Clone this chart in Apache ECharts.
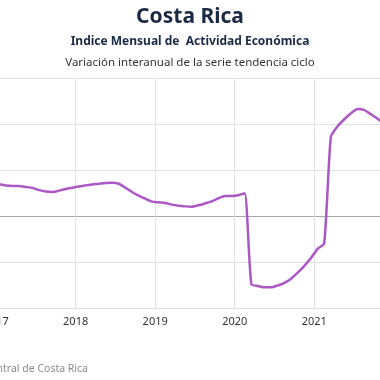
<!DOCTYPE html>
<html>
<head>
<meta charset="utf-8">
<script src="https://cdn.jsdelivr.net/npm/echarts@6/dist/echarts.min.js"></script>
<style>
html,body{margin:0;padding:0;width:380px;height:380px;overflow:hidden;background:#fff;}
#c{position:absolute;left:-150px;top:0;width:680px;height:380px;}
</style>
</head>
<body>
<div id="c"></div>
<script>
// Monthly observations (year, month) and year-on-year % change of trend-cycle IMAE
const months = [
  "2016-11","2016-12",
  "2017-01","2017-02","2017-03","2017-04","2017-05","2017-06","2017-07","2017-08","2017-09","2017-10","2017-11","2017-12",
  "2018-01","2018-02","2018-03","2018-04","2018-05","2018-06","2018-07","2018-08","2018-09","2018-10","2018-11","2018-12",
  "2019-01","2019-02","2019-03","2019-04","2019-05","2019-06","2019-07","2019-08","2019-09","2019-10","2019-11","2019-12",
  "2020-01","2020-02","2020-03","2020-04","2020-05","2020-06","2020-07","2020-08","2020-09","2020-10","2020-11","2020-12",
  "2021-01","2021-02","2021-03","2021-04","2021-05","2021-06","2021-07","2021-08","2021-09","2021-10","2021-11","2021-12"
];
const values = [
  3.75, 3.62,
  3.50, 3.35, 3.30, 3.30, 3.20, 3.10, 2.85, 2.70, 2.65, 2.80, 2.97, 3.12,
  3.25, 3.37, 3.47, 3.55, 3.63, 3.65, 3.55, 3.12, 2.65, 2.25, 1.92, 1.60,
  1.52, 1.45, 1.27, 1.15, 1.08, 1.05, 1.20, 1.40, 1.62, 1.95, 2.20, 2.22,
  2.30, 2.50, -7.40, -7.60, -7.75, -7.75, -7.55, -7.25, -6.80, -6.15, -5.40, -4.55,
  -3.55, -2.95, 8.65, 9.80, 10.55, 11.20, 11.70, 11.60, 11.15, 10.65, 10.10, 9.50
];
const yearTicks = [2016, 2017, 2018, 2019, 2020, 2021, 2022];
const yTicks = [-10, -5, 0, 5, 10, 15];

const titleMain = "Costa Rica";
const titleSub1 = "Indice Mensual de  Actividad Económica";
const titleSub2 = "Variación interanual de la serie tendencia ciclo";
const source = "Fuente: Banco Central de Costa Rica";

const points = months.map((m, i) => {
  const [y, mo] = m.split("-").map(Number);
  return [y + (mo - 0.5) / 12, values[i]];
});

const chart = echarts.init(document.getElementById('c'), null, {renderer: 'canvas'});
const font = "'Noto Sans', 'DejaVu Sans', sans-serif";
chart.setOption({
  backgroundColor: '#ffffff',
  animation: false,
  title: [
    {text: titleMain, left: 'center', top: 2,
     textStyle: {fontFamily: font, fontSize: 21, fontWeight: 'bold', color: '#1b2a47'}},
    {text: titleSub1, left: 'center', top: 31,
     textStyle: {fontFamily: font, fontSize: 12, fontWeight: 'bold', color: '#1b2a47'}},
    {text: titleSub2, left: 'center', top: 52,
     textStyle: {fontFamily: font, fontSize: 11.5, fontWeight: 'normal', color: '#333333'}}
  ],
  grid: {left: 66.6, right: 136.2, top: 78.7, bottom: 72, containLabel: false},
  xAxis: {
    type: 'value',
    min: yearTicks[0], max: yearTicks[yearTicks.length - 1], interval: 1,
    axisLine: {show: true, onZero: false, lineStyle: {color: '#dddddd', width: 1}},
    axisTick: {show: false},
    axisLabel: {fontFamily: font, fontSize: 11, color: '#333333', margin: 8,
      formatter: v => String(Math.round(v))},
    splitLine: {show: true, lineStyle: {color: '#e2e2e2', width: 1}}
  },
  yAxis: {
    type: 'value',
    min: yTicks[0], max: yTicks[yTicks.length - 1], interval: 5,
    axisLine: {show: false},
    axisTick: {show: false},
    axisLabel: {fontFamily: font, fontSize: 11, color: '#333333'},
    splitLine: {show: true, lineStyle: {
      color: yTicks.map(v => v === 0 ? '#a8a8a8' : '#e2e2e2'), width: 1}}
  },
  graphic: [{
    type: 'text', left: null, x: 238, y: 369,
    style: {text: source, textAlign: 'right', textVerticalAlign: 'middle',
      fontFamily: font, fontSize: 10.5, fill: '#8a8a8a'}
  }],
  series: [{
    type: 'line',
    data: points,
    showSymbol: false,
    smooth: 0.2,
    lineStyle: {color: '#ac57c6', width: 2.5},
    itemStyle: {color: '#ac57c6'}
  }]
});
</script>
</body>
</html>
